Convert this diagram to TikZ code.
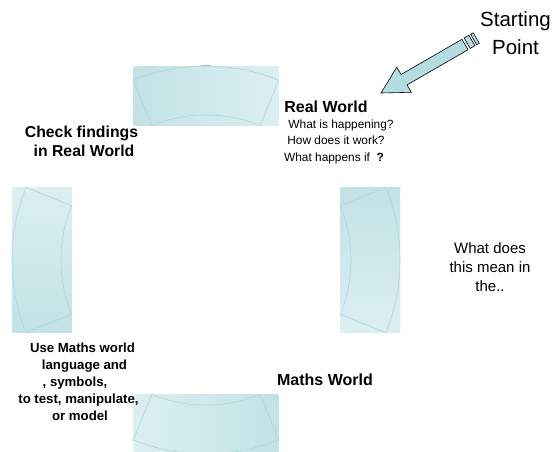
\documentclass[tikz,border=0pt]{standalone}
\usepackage{fontspec}
\setmainfont{Liberation Sans}
\usetikzlibrary{calc}
\definecolor{tealdark}{HTML}{C2E2E6}
\definecolor{teallight}{HTML}{DCEFF1}
\definecolor{tealline}{HTML}{A9D5DA}
\definecolor{arrowfill}{HTML}{B3DDE1}
\begin{document}
\begin{tikzpicture}[x=1pt,y=-1pt,
  secline/.style={draw=tealline,line width=0.6pt},
  arrowstyle/.style={draw=black,fill=arrowfill,line width=0.6pt,line join=miter},
  txt/.style={anchor=base,inner sep=0pt,outer sep=0pt},
  bigbold/.style={txt,font=\fontsize{16}{18}\selectfont\bfseries},
  small/.style={txt,font=\fontsize{11.9}{14}\selectfont},
  midbold/.style={txt,font=\fontsize{15.8}{18}\selectfont\bfseries},
  sbold/.style={txt,font=\fontsize{13.2}{15}\selectfont\bfseries},
  plain/.style={txt,font=\fontsize{15}{17}\selectfont},
  start/.style={txt,font=\fontsize{20.5}{23}\selectfont}]
\useasboundingbox (0,0) rectangle (553,451);
\coordinate (C) at (206,260);
% top segment
\shade[left color=tealdark,right color=teallight] (133.3,66) rectangle (278.7,125.6);
\draw[secline] ($(C)+(112:194pt)$) arc[start angle=112,end angle=68,radius=194pt]
  -- ($(C)+(68:145pt)$) arc[start angle=68,end angle=112,radius=145pt] -- cycle;
\fill[gray!55] (200,66) .. controls (203,64.2) and (209,64.2) .. (212,66) -- cycle;
% right segment
\shade[top color=tealdark,bottom color=teallight] (340.4,187.3) rectangle (400,332.7);
\draw[secline] ($(C)+(22:194pt)$) arc[start angle=22,end angle=-22,radius=194pt]
  -- ($(C)+(-22:145pt)$) arc[start angle=-22,end angle=22,radius=145pt] -- cycle;
% bottom segment
\shade[left color=teallight,right color=tealdark] (133.3,394.4) rectangle (278.7,454);
\draw[secline] ($(C)+(292:194pt)$) arc[start angle=292,end angle=248,radius=194pt]
  -- ($(C)+(248:145pt)$) arc[start angle=248,end angle=292,radius=145pt] -- cycle;
% left segment
\shade[top color=teallight,bottom color=tealdark] (12,187.3) rectangle (71.6,332.7);
\draw[secline] ($(C)+(202:194pt)$) arc[start angle=202,end angle=158,radius=194pt]
  -- ($(C)+(158:145pt)$) arc[start angle=158,end angle=202,radius=145pt] -- cycle;
% starting arrow
\begin{scope}[shift={(381,93)},rotate=30]
  \draw[arrowstyle] (0,0) -- (26.6,14.5) -- (26.6,6) -- (97,6) -- (97,-6)
    -- (26.6,-6) -- (26.6,-14.5) -- cycle;
  \draw[arrowstyle] (99.5,6) rectangle (105,-6);
  \draw[arrowstyle] (107,6) rectangle (110,-6);
\end{scope}
% texts
\node[start] (st1) at (515.5,26) {Starting};
\node[start] (st2) at (515.5,54) {Point};
\node[bigbold] (rw) at (326,112) {Real World};
\node[small] (rw1) at (341,128) {What is happening?};
\node[small] (rw2) at (336,144) {How does it work?};
\node[small] (rw3) at (334,161) {What happens if~ \textbf{?}};
\node[midbold] (cf1) at (81.5,137) {Check findings};
\node[midbold] (cf2) at (84,156) {in Real World};
\node[plain] (wd1) at (490,253) {What does};
\node[plain] (wd2) at (490,272) {this mean in};
\node[plain] (wd3) at (490,291) {the..};
\node[sbold] (um1) at (82.5,352) {Use Maths world};
\node[sbold] (um2) at (84.5,369) {language and};
\node[sbold] (um3) at (75,386) {, symbols,};
\node[sbold] (um4) at (78.5,403) {to test, manipulate,};
\node[sbold] (um5) at (80,420) {or model};
\node[bigbold] (mw) at (325,385) {Maths World};
\end{tikzpicture}
\end{document}
